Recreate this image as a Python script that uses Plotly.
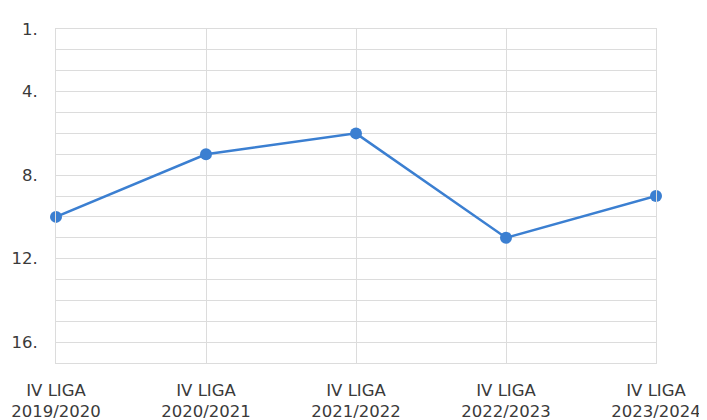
import plotly.graph_objects as go

seasons = ["IV LIGA<br>2019/2020", "IV LIGA<br>2020/2021", "IV LIGA<br>2021/2022",
           "IV LIGA<br>2022/2023", "IV LIGA<br>2023/2024"]
positions = [10, 7, 6, 11, 9]
y_ticks = [1, 4, 8, 12, 16]
y_tick_text = ["1.", "4.", "8.", "12.", "16."]

grid = "#dcdcdc"
font = dict(family="DejaVu Sans", size=16.5, color="#3a3a3a")

fig = go.Figure()
fig.add_trace(go.Scatter(
    x=seasons, y=positions, mode="lines+markers",
    line=dict(color="#3b7fd1", width=2.5),
    marker=dict(color="#3b7fd1", size=12),
    cliponaxis=False,
    hoverinfo="x+y",
))

fig.update_xaxes(
    range=[0, 4], showgrid=True, gridcolor=grid, gridwidth=1,
    showline=True, linecolor=grid, linewidth=1, mirror=True,
    tickfont=font, ticks="", zeroline=False,
    automargin=False, ticklabelstandoff=12,
)
fig.update_yaxes(
    range=[17, 1], tickvals=y_ticks, ticktext=y_tick_text,
    showgrid=True, gridcolor=grid, gridwidth=1,
    minor=dict(dtick=1, tick0=1, showgrid=True, gridcolor=grid, gridwidth=1),
    showline=True, linecolor=grid, linewidth=1, mirror=True,
    tickfont=font, ticks="", zeroline=False,
    automargin=False, ticklabelstandoff=14,
)
# page body adds an 8px offset, so the figure is drawn 8px smaller
fig.update_layout(
    width=699, height=412, autosize=False,
    margin=dict(l=48, r=51, t=21, b=57),
    plot_bgcolor="white", paper_bgcolor="white",
    showlegend=False,
)

fig.write_html("out.html")
